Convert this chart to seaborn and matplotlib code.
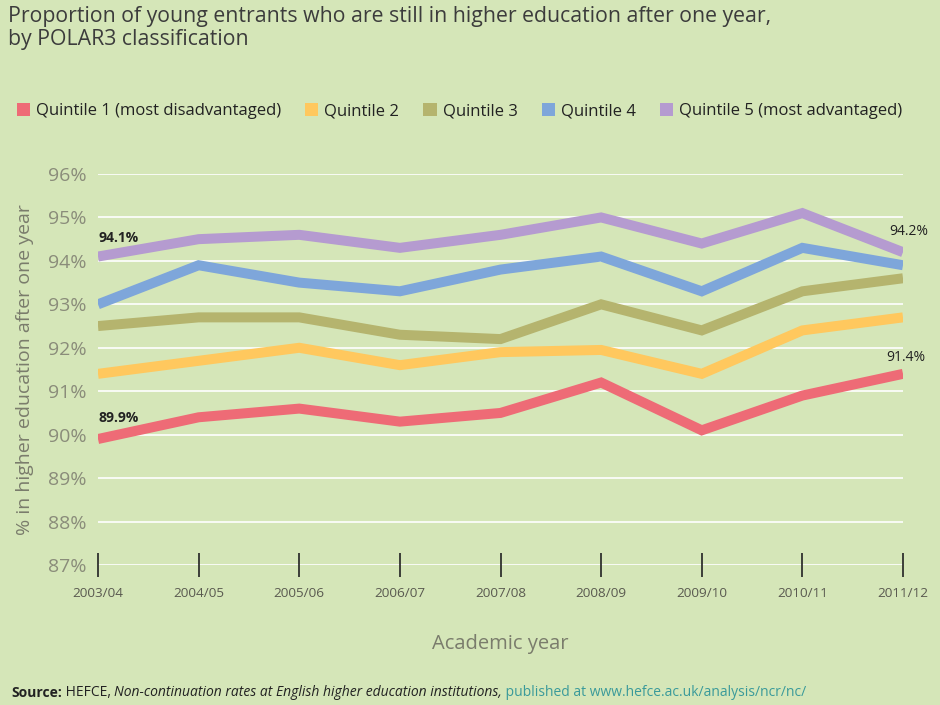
import matplotlib
matplotlib.use("Agg")
import matplotlib.pyplot as plt
import seaborn as sns
import pandas as pd
from matplotlib.patches import Patch

years = ["2003/04", "2004/05", "2005/06", "2006/07", "2007/08",
         "2008/09", "2009/10", "2010/11", "2011/12"]
series_names = ["Quintile 1 (most disadvantaged)", "Quintile 2", "Quintile 3",
                "Quintile 4", "Quintile 5 (most advantaged)"]
q1 = [89.9, 90.4, 90.6, 90.3, 90.5, 91.2, 90.1, 90.9, 91.4]
q2 = [91.4, 91.7, 92.0, 91.6, 91.9, 91.95, 91.4, 92.4, 92.7]
q3 = [92.5, 92.7, 92.7, 92.3, 92.2, 93.0, 92.4, 93.3, 93.6]
q4 = [93.0, 93.9, 93.5, 93.3, 93.8, 94.1, 93.3, 94.3, 93.9]
q5 = [94.1, 94.5, 94.6, 94.3, 94.6, 95.0, 94.4, 95.1, 94.2]
y_ticks = [87, 88, 89, 90, 91, 92, 93, 94, 95, 96]
colors = ["#EE6B76", "#FFC85E", "#B5B46E", "#7EA6DA", "#B59BD0"]

BG = "#D5E6B8"
FONT = ["Open Sans", "DejaVu Sans"]

rows = []
for name, vals in zip(series_names, [q1, q2, q3, q4, q5]):
    for i, (yr, v) in enumerate(zip(years, vals)):
        rows.append({"idx": i, "year": yr, "value": v, "series": name})
df = pd.DataFrame(rows)

sns.set_theme(style="white")
plt.rcParams["font.family"] = FONT

fig = plt.figure(figsize=(9.4, 7.05), dpi=100, facecolor=BG)
ax = fig.add_axes([98 / 940, 1 - 565 / 705, (903 - 98) / 940, (565 - 174) / 705])
ax.set_facecolor(BG)

sns.lineplot(data=df, x="idx", y="value", hue="series", hue_order=series_names,
             palette=colors, linewidth=7.2, legend=False, ax=ax,
             solid_capstyle="butt", solid_joinstyle="miter")
for ln in ax.get_lines():
    ln.set_zorder(3)

ax.set_xlim(0, 8)
ax.set_ylim(87, 96)
ax.set_yticks(y_ticks)
ax.set_yticklabels([f"{t}%" for t in y_ticks], color="#8A8C7A", fontsize=14)
ax.set_xticks(range(len(years)))
ax.set_xticklabels(years, color="#5A5A50", fontsize=9.7)
ax.yaxis.grid(True, color="white", linewidth=1.2)
ax.xaxis.grid(False)
ax.yaxis.set_zorder(1.0)
ax.xaxis.set_zorder(2.0)
for s in ax.spines.values():
    s.set_visible(False)
ax.tick_params(axis="x", direction="inout", length=17, width=1.2, color="#222222", pad=7,
               bottom=True)
ax.tick_params(axis="y", length=0, pad=8)
ax.set_xlabel("Academic year", fontsize=14.5, color="#7A7C6C", labelpad=25)
ax.set_ylabel("% in higher education after one year", fontsize=14, color="#7A7C6C", labelpad=10)

# annotations
ax.annotate(f"{q5[0]}%", (0, q5[0]), xytext=(15, 8), textcoords="offset points",
            ha="center", va="bottom", fontsize=10, fontweight="bold", color="#222222")
ax.annotate(f"{q1[0]}%", (0, q1[0]), xytext=(15, 10), textcoords="offset points",
            ha="center", va="bottom", fontsize=10, fontweight="bold", color="#222222")
ax.annotate(f"{q5[-1]}%", (8, q5[-1]), xytext=(4, 9.5), textcoords="offset points",
            ha="center", va="bottom", fontsize=10, color="#222222", annotation_clip=False)
ax.annotate(f"{q1[-1]}%", (8, q1[-1]), xytext=(2, 6.5), textcoords="offset points",
            ha="center", va="bottom", fontsize=10, color="#222222", annotation_clip=False)

# title
fig.text(8 / 940, 1 - 6 / 705,
         "Proportion of young entrants who are still in higher education after one year,\nby POLAR3 classification",
         ha="left", va="top", fontsize=15.3, color="#3C3C3C", linespacing=1.12)

# legend
handles = [Patch(facecolor=c, edgecolor="none") for c in colors]
fig.legend(handles, series_names, loc="center left", bbox_to_anchor=(10 / 940, 1 - 111 / 705),
           ncol=5, frameon=False, fontsize=12, handlelength=0.8, handleheight=0.8,
           handletextpad=0.35, columnspacing=1.45, labelcolor="#222222", borderaxespad=0)

# source line
y_src = 1 - 693 / 705
t1 = fig.text(11 / 940, y_src, "Source:", fontsize=10, fontweight="bold", color="#222222",
              va="center", ha="left")
fig.canvas.draw()
r = fig.canvas.get_renderer()

def after(t, s, **kw):
    bb = t.get_window_extent(renderer=r)
    x = bb.x1 / fig.bbox.width
    nt = fig.text(x, y_src, s, va="center", ha="left", fontsize=10, **kw)
    return nt

t2 = after(t1, " HEFCE, ", color="#222222")
t3 = after(t2, "Non-continuation rates at English higher education institutions,", color="#222222",
           style="italic")
t4 = after(t3, " published at www.hefce.ac.uk/analysis/ncr/nc/", color="#3A9A9A")

fig.savefig("out.png", dpi=100, facecolor=BG)
